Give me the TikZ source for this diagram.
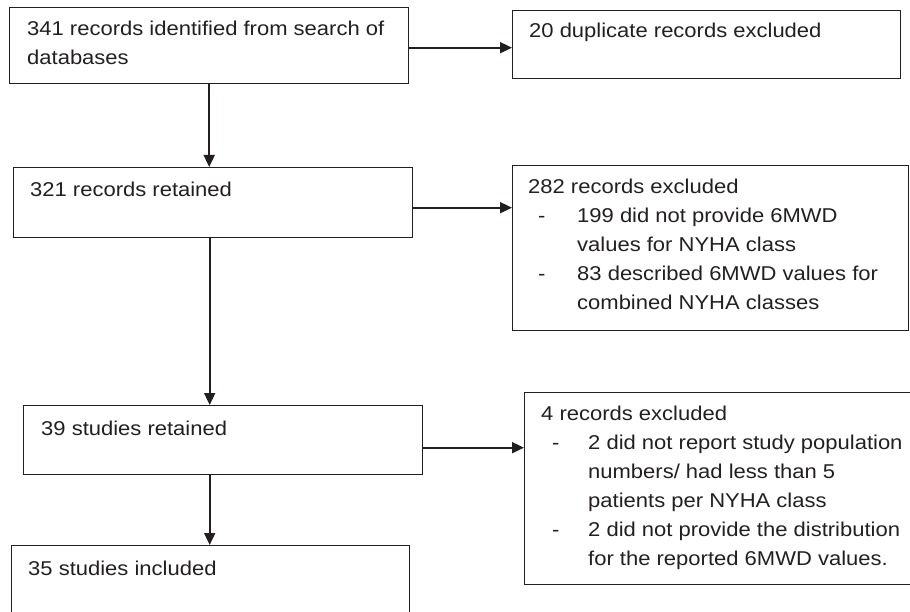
\documentclass[tikz,border=0pt]{standalone}
\usepackage{fontspec}
\setmainfont{Liberation Sans}[FakeStretch=1.1]
\usetikzlibrary{arrows.meta}
\definecolor{ink}{HTML}{231F20}
\tikzset{
  box/.style={draw=ink, line width=1.4pt, rectangle, inner sep=0pt, anchor=north west},
  txt/.style={anchor=base west, inner sep=0pt, text=ink, font=\fontsize{20}{29}\selectfont},
  arr/.style={draw=ink, line width=1.8pt, -{Triangle[length=12pt,width=11pt]}}
}
\begin{document}
\begin{tikzpicture}[x=1pt,y=-1pt]
\useasboundingbox (0,0) rectangle (910,612);
% boxes
\node[box, minimum width=399pt, minimum height=76pt] (b1) at (9,7) {};
\node[box, minimum width=388pt, minimum height=68pt] (b2) at (512,10) {};
\node[box, minimum width=399pt, minimum height=70pt] (b3) at (13,167) {};
\node[box, minimum width=396pt, minimum height=165pt] (b4) at (512,165) {};
\node[box, minimum width=399pt, minimum height=69pt] (b5) at (23,405) {};
\node[box, minimum width=400pt, minimum height=192pt] (b6) at (524,392) {};
\node[box, minimum width=398pt, minimum height=80pt] (b7) at (11,545) {};
% texts
\node[txt] (t1) at (27,36) {\begin{tabular}[t]{@{}l@{}}341 records identified from search of\\ databases\end{tabular}};
\node[txt] (t2) at (529,38) {20 duplicate records excluded};
\node[txt] (t3) at (30,197) {321 records retained};
\node[txt] (t4) at (528,194) {\begin{tabular}[t]{@{}l@{}l@{}}
\multicolumn{2}{@{}l@{}}{282 records excluded}\\
\makebox[49pt][l]{\hspace*{10pt}-} & 199 did not provide 6MWD\\
 & values for NYHA class\\
\makebox[49pt][l]{\hspace*{10pt}-} & 83 described 6MWD values for\\
 & combined NYHA classes
\end{tabular}};
\node[txt] (t5) at (41,435) {39 studies retained};
\node[txt] (t6) at (541,420) {\begin{tabular}[t]{@{}l@{}l@{}}
\multicolumn{2}{@{}l@{}}{4 records excluded}\\
\makebox[47pt][l]{\hspace*{11pt}-} & 2 did not report study population\\
 & numbers/ had less than 5\\
 & patients per NYHA class\\
\makebox[47pt][l]{\hspace*{11pt}-} & 2 did not provide the distribution\\
 & for the reported 6MWD values.
\end{tabular}};
\node[txt] (t7) at (28,575) {35 studies included};
% connectors
\coordinate (a1s) at ([yshift=-2pt]b1.east);
\draw[arr] (a1s) -- (a1s -| b2.west);
\draw[arr] (b1.south) -- (b1.south |- b3.north);
\coordinate (a3s) at ([yshift=-5pt]b3.east);
\draw[arr] (a3s) -- (a3s -| b4.west);
\coordinate (a4s) at ([xshift=-3.5pt]b3.south);
\draw[arr] (a4s) -- (a4s |- b5.north);
\coordinate (a5s) at ([yshift=-7.5pt]b5.east);
\draw[arr] (a5s) -- (a5s -| b6.west);
\coordinate (a6s) at ([xshift=-13.5pt]b5.south);
\draw[arr] (a6s) -- (a6s |- b7.north);
\end{tikzpicture}
\end{document}
